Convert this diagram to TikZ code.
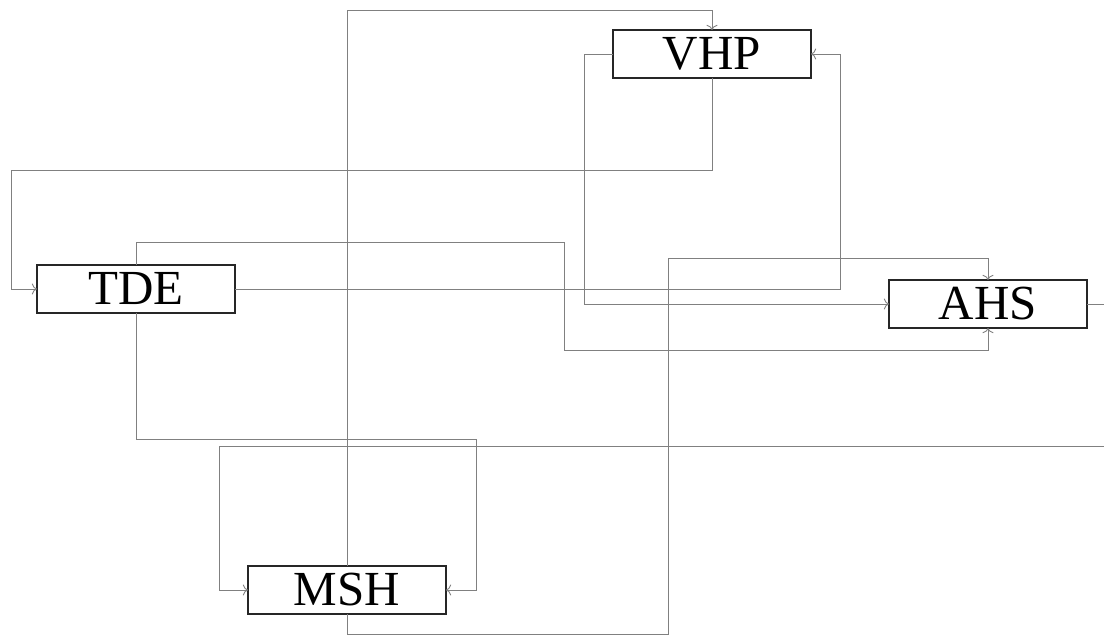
\documentclass[tikz,border=0pt]{standalone}
\usepackage{fontspec}
\setmainfont{Liberation Serif}
\usetikzlibrary{positioning, arrows.meta}

\begin{document}
\begin{tikzpicture}[x=1pt, y=1pt,
    block/.style={draw=black!85, line width=0.6pt, minimum width=99pt, minimum height=24pt, inner sep=0pt, outer sep=0pt, font=\fontsize{24.5}{24.5}\selectfont},
    link/.style={draw=gray, line width=0.45pt, -{To[length=2.6pt, width=5.5pt]}}]

    \useasboundingbox (0,0) rectangle (552,-318);

    \node[block] (tde) at (68,-144.5) {TDE};
    \node[block, above right=93.5pt and 189pt of tde] (vhp) {VHP};
    \node[block, right=327pt of tde, yshift=-7.5pt] (ahs) {AHS};
    \node[block, below right=126.5pt and 6.5pt of tde] (msh) {MSH};

    % connectors
    \draw[link] (msh.north) -- ++(0,278) -| (vhp.north);
    \draw[link] (msh.south) -- ++(0,-10) -- ++(160.5,0) -- ++(0,188) -| (ahs.north);
    \draw[link] (vhp.south) -- ++(0,-46) -- ++(-350.5,0) |- (tde.west);
    \draw[link] (vhp.west) -- ++(-14.5,0) |- (ahs.west);
    \draw[link] (tde.east) -- ++(302.5,0) |- (vhp.east);
    \draw[link] (tde.north) -- ++(0,11.5) -- ++(214,0) -- ++(0,-54) -| (ahs.south);
    \draw[link] (tde.south) -- ++(0,-63) -- ++(170,0) |- (msh.east);
    \draw[link] (ahs.east) -- ++(16,0) -- ++(0,-71) -- ++(-450,0) |- (msh.west);

\end{tikzpicture}
\end{document}
